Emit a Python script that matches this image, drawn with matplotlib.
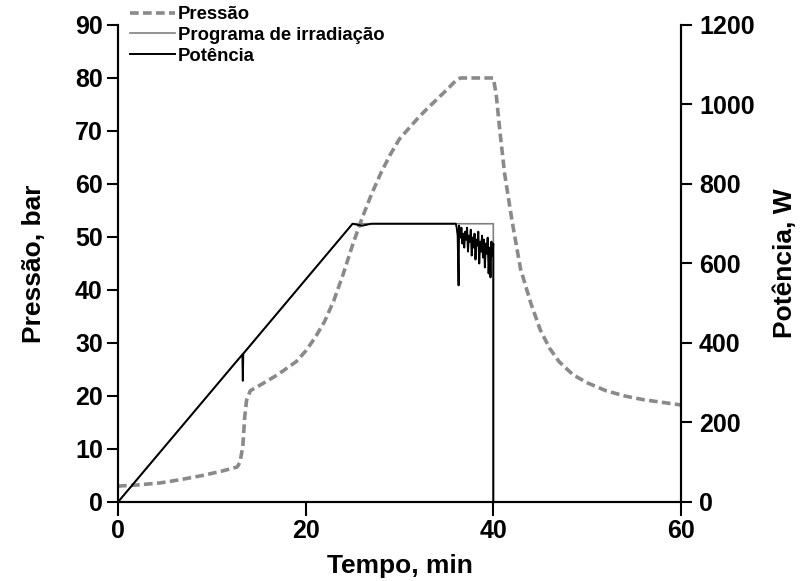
import matplotlib
matplotlib.use('Agg')
import matplotlib.pyplot as plt

plt.rcParams['font.family'] = ['Liberation Sans', 'DejaVu Sans']
plt.rcParams['font.weight'] = 'bold'

# pressão (bar) vs tempo (min)
t_p = [0, 2, 4.5, 6.6, 9, 11, 12.7, 13.0, 13.3, 13.5, 13.7, 14.1, 15.1, 17, 19, 20, 21, 22,
       23, 24, 25, 26, 27, 28, 29, 30, 31, 32, 33, 34, 35, 36, 36.5, 38, 40, 40.3, 40.7,
       41.2, 42, 42.9, 44, 45, 46, 47, 48.5, 50, 52, 54, 56, 58, 60]
p = [3, 3.2, 3.6, 4.2, 5.0, 5.8, 6.6, 7.5, 10.5, 16, 19.2, 21, 22, 24, 26.5, 28.5, 31, 34,
     38, 43, 48.5, 53.5, 58, 62, 65.5, 68.5, 70.5, 72.5, 74.3, 76, 77.7, 79.5, 80, 80, 80, 77, 70,
     62, 53, 44, 37.5, 32.5, 29, 26.5, 24, 22.5, 21, 20, 19.3, 18.8, 18.3]

# programa de irradiação (W)
t_prog = [0, 25, 40, 40]
w_prog = [0, 700, 700, 0]

# potência medida (W)
t_pot = [0, 13.25, 13.3, 13.35, 25, 26, 27, 36.0, 36.1, 36.2, 36.3, 36.35, 36.4, 36.5,
         36.6, 36.7, 36.8, 36.9, 37.0, 37.1, 37.2, 37.3, 37.4, 37.5, 37.6, 37.7, 37.8,
         37.9, 38.0, 38.1, 38.2, 38.3, 38.4, 38.5, 38.6, 38.7, 38.8, 38.9, 39.0, 39.1,
         39.2, 39.3, 39.4, 39.5, 39.6, 39.7, 39.8, 39.9, 40.0, 40.0]
w_pot = [0, 371, 305, 373, 700, 695, 700, 700, 690, 670, 545, 695, 680, 665,
         690, 650, 675, 640, 680, 660, 690, 630, 670, 655, 685, 620, 665,
         640, 675, 610, 660, 645, 680, 600, 655, 630, 670, 615, 660, 590,
         650, 625, 665, 575, 640, 565, 655, 620, 650, 0]

fig = plt.figure(figsize=(8.03, 5.81), dpi=100)
ax1 = fig.add_axes([0.147, 0.136, 0.701, 0.821])
ax2 = ax1.twinx()

l_p, = ax1.plot(t_p, p, color='#8a8a8a', lw=2.6, ls=(0, (2.4, 1.2)), label='Pressão')
l_prog, = ax2.plot(t_prog, w_prog, color='#808080', lw=1.2, label='Programa de irradiação')
l_pot, = ax2.plot(t_pot, w_pot, color='black', lw=1.4, label='Potência')

ax1.set_xlim(0, 60)
ax1.set_ylim(0, 90)
ax2.set_ylim(0, 1200)
ax1.set_xticks([0, 20, 40, 60])
ax1.set_yticks(range(0, 91, 10))
ax2.set_yticks(range(0, 1201, 200))

for ax in (ax1, ax2):
    ax.spines['top'].set_visible(False)
    for s in ax.spines.values():
        s.set_linewidth(1.5)
    ax.tick_params(direction='out', length=8, width=1.5, labelsize=18, pad=3)
ax1.tick_params(axis='x', length=10, pad=2)
ax2.tick_params(axis='y', pad=5)

ax1.set_xlabel('Tempo, min', fontsize=19, fontweight='bold', labelpad=8)
ax1.set_ylabel('Pressão, bar', fontsize=19, fontweight='bold', labelpad=21)
ax2.set_ylabel('Potência, W', fontsize=19, fontweight='bold', labelpad=13)

ax2.legend([l_p, l_prog, l_pot], ['Pressão', 'Programa de irradiação', 'Potência'],
           loc='upper left', bbox_to_anchor=(0.009, 1.055), frameon=False,
           prop={'size': 13.3, 'weight': 'bold'}, handlelength=2.4,
           handletextpad=0.15, labelspacing=0.2, borderaxespad=0)

fig.savefig('out.png', dpi=100)
